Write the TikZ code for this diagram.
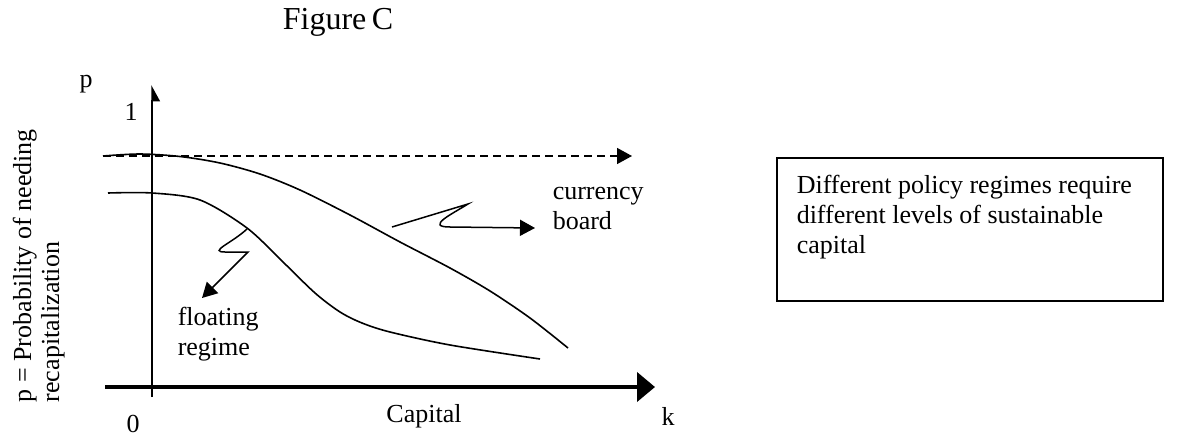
\documentclass[tikz,border=0pt]{standalone}
\usepackage{fontspec}
\setmainfont{Liberation Serif}
\usetikzlibrary{arrows.meta}
\tikzset{lbl/.style={font=\fontsize{13}{15}\selectfont, inner sep=0pt}}
\tikzset{tip/.style={-{Triangle[length=7.5pt,width=8pt]}}}
\tikzset{curve/.style={line width=0.8pt}}

\begin{document}
\begin{tikzpicture}[x=0.5pt, y=-0.5pt, line width=0.75pt]
\useasboundingbox (0,0) rectangle (1186,438);

\node[font=\fontsize{16}{18}\selectfont, inner sep=0pt] (title) at (338,22) {Figure\,C};

\coordinate (ybot) at (152,397);
\coordinate (ytop) at (152,85);
\coordinate (xleft) at (105,387);
\coordinate (xright) at (655,387);
\draw[-{Triangle[right,length=7.5pt,width=8pt]}] (ybot) -- (ytop);
\draw[line width=2pt, -{Triangle[length=9pt,width=14.5pt]}] (xleft) -- (xright);

\node[lbl] (plab) at (86,84) {p};
\node[lbl] (one) at (131,112) {1};
\node[lbl] (zero) at (133,424) {0};
\node[lbl] (kapital) at (424,416) {Capital};
\node[lbl] (klab) at (668,416) {k};
\node[lbl, font=\fontsize{13}{14}\selectfont, rotate=90, align=left, anchor=north west]
  (ylab) at (12,403) {p = Probability of needing\\recapitalization};

\coordinate (dstart) at (103,156);
\coordinate (dend) at (632,156);
\draw[dashed, dash pattern=on 4pt off 2.5pt, tip] (dstart) -- (dend);

\draw[curve] plot[smooth, tension=0.5] coordinates {(103,156) (140,154) (180,156.5) (220,163)
  (260,174) (300,190) (350,215) (400,242) (450,268) (490,291) (530,318) (568,348)};
\draw[curve] plot[smooth, tension=0.5] coordinates {(108,193) (152,193) (200,200) (247,228)
  (283,262) (315,293) (340,312) (362,323) (390,332) (450,345) (540,359)};

\node[lbl, align=left, anchor=north west] (flt) at (177,306) {floating\\regime};
\node[lbl, align=left, anchor=north west] (cur) at (552,186) {currency\\board};

\coordinate (fl1) at (247,229);
\coordinate (fl2) at (248,252);
\coordinate (fltip) at (202,298);
\draw[tip] (fl1) .. controls (232,243) and (208,252) .. (225,252) -- (fl2) -- (fltip);

\coordinate (cb1) at (392,227);
\coordinate (cb2) at (468,204);
\coordinate (cbtip) at (535,228);
\draw[tip] (cb1) -- (cb2) .. controls (452,214) and (425,227) .. (450,227) -- (cbtip);

\node[draw, line width=1pt, minimum width=193pt, minimum height=71.5pt, anchor=north west]
  (box) at (776,157) {};
\node[lbl, align=left, anchor=north west] (note) at ([shift={(10pt,-8.5pt)}]box.north west)
  {Different policy regimes require\\different levels of sustainable\\capital};
\end{tikzpicture}
\end{document}
